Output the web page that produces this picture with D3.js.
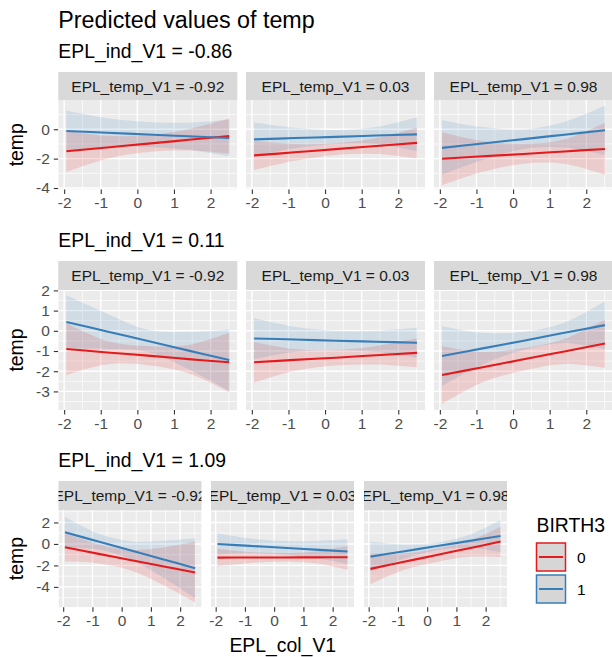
<!DOCTYPE html>
<html>
<head>
<meta charset="utf-8">
<script src="https://cdn.jsdelivr.net/npm/d3@7"></script>
<style>
  html, body { margin: 0; padding: 0; background: #ffffff; }
  svg { display: block; }
  text { font-family: "Liberation Sans", Arial, Helvetica, sans-serif; }
</style>
</head>
<body>
<div id="chart"></div>
<script>
// ---------------- DATA ----------------
const chartTitle = "Predicted values of temp";
const rowLabels = ["EPL_ind_V1 = -0.86", "EPL_ind_V1 = 0.11", "EPL_ind_V1 = 1.09"];
const colLabels = ["EPL_temp_V1 = -0.92", "EPL_temp_V1 = 0.03", "EPL_temp_V1 = 0.98"];
const groups = ["0", "1"];
const legendTitle = "BIRTH3";
const xTitle = "EPL_col_V1";
const yTitle = "temp";
const xTicks = [-2, -1, 0, 1, 2];
const yTicksRow1 = [-4, -2, 0];
const yTicksRow2 = [-3, -2, -1, 0, 1, 2];
const yTicksRow3 = [-4, -2, 0, 2];
const xs = [-1.94, -0.83, 0.29, 1.40, 2.51];

// per panel (row-major: row1 col1..3, row2 col1..3, row3 col1..3)
const fit0 = [
  [-1.50, -1.24, -0.98, -0.72, -0.46],
  [-1.78, -1.57, -1.35, -1.14, -0.93],
  [-2.01, -1.84, -1.68, -1.51, -1.34],
  [-0.90, -1.07, -1.23, -1.40, -1.56],
  [-1.56, -1.44, -1.33, -1.21, -1.09],
  [-2.19, -1.80, -1.41, -1.02, -0.63],
  [-0.31, -0.90, -1.49, -2.07, -2.66],
  [-1.27, -1.26, -1.26, -1.25, -1.24],
  [-2.32, -1.69, -1.05, -0.42, 0.22]
];
const lo0 = [
  [-2.90, -2.00, -1.55, -1.45, -1.66],
  [-2.78, -2.15, -1.75, -1.68, -1.98],
  [-3.82, -2.90, -2.35, -2.35, -3.10],
  [-2.19, -1.65, -1.70, -2.10, -3.05],
  [-2.57, -1.98, -1.72, -1.67, -1.81],
  [-3.62, -2.55, -1.97, -1.64, -1.83],
  [-1.64, -1.80, -2.45, -3.80, -5.45],
  [-2.10, -1.78, -1.65, -1.80, -2.41],
  [-3.75, -2.45, -1.70, -1.20, -1.24]
];
const hi0 = [
  [-0.10, -0.45, -0.40, 0.00, 0.74],
  [-0.78, -1.00, -0.95, -0.60, 0.12],
  [-0.20, -0.80, -1.00, -0.70, 0.44],
  [0.39, -0.50, -0.75, -0.70, -0.10],
  [-0.55, -0.90, -0.95, -0.75, -0.37],
  [-0.76, -1.05, -0.85, -0.40, 0.56],
  [1.02, 0.00, -0.55, -0.35, 0.22],
  [-0.44, -0.75, -0.85, -0.70, -0.19],
  [-0.89, -0.90, -0.45, 0.25, 1.61]
];
const fit1 = [
  [-0.12, -0.24, -0.36, -0.48, -0.60],
  [-0.69, -0.60, -0.52, -0.43, -0.35],
  [-1.27, -0.97, -0.67, -0.37, -0.07],
  [0.44, -0.03, -0.50, -0.98, -1.45],
  [-0.38, -0.43, -0.49, -0.54, -0.59],
  [-1.25, -0.87, -0.49, -0.10, 0.28],
  [1.08, 0.25, -0.59, -1.42, -2.26],
  [0.00, -0.18, -0.35, -0.53, -0.71],
  [-1.18, -0.70, -0.22, 0.26, 0.74]
];
const lo1 = [
  [-1.50, -1.20, -1.20, -1.40, -1.85],
  [-1.84, -1.30, -1.00, -1.00, -1.50],
  [-3.10, -2.10, -1.35, -1.25, -1.76],
  [-0.88, -0.90, -1.05, -1.90, -2.97],
  [-1.40, -1.05, -0.98, -1.05, -1.33],
  [-2.73, -1.65, -0.95, -0.60, -0.90],
  [-0.38, -0.50, -1.40, -3.10, -5.05],
  [-0.99, -0.85, -0.98, -1.30, -1.85],
  [-2.58, -1.40, -0.60, -0.35, -0.75]
];
const hi1 = [
  [1.27, 0.75, 0.50, 0.45, 0.65],
  [0.46, 0.10, -0.05, 0.15, 0.81],
  [0.62, 0.15, 0.00, 0.50, 1.62],
  [1.76, 0.85, 0.05, -0.05, 0.07],
  [0.64, 0.20, 0.00, 0.00, 0.15],
  [0.23, -0.10, -0.05, 0.40, 1.46],
  [2.54, 1.00, 0.25, 0.30, 0.53],
  [0.99, 0.50, 0.28, 0.28, 0.43],
  [0.22, -0.05, 0.10, 0.80, 2.23]
];

// ---------------- LAYOUT / STYLE ----------------
const W = 612, H = 657;
const colors = ["#E41A1C", "#377EB8"];
const xDomain = [-2.16, 2.73];
const rowsGeom = [
  { labelY: 58.3, stripTop: 72, top: 100, bottom: 189.5, lefts: [58.3, 246, 434], width: 179, yDomain: [-4.1, 1.99], yTicks: yTicksRow1 },
  { labelY: 246.7, stripTop: 261, top: 290, bottom: 410, lefts: [58.3, 246, 434], width: 179, yDomain: [-3.92, 2.02], yTicks: yTicksRow2 },
  { labelY: 466.7, stripTop: 481, top: 510, bottom: 607.3, lefts: [58.5, 211, 364], width: 143, yDomain: [-5.9, 3.16], yTicks: yTicksRow3 }
];
const fsBase = 19.4, fsSmall = 15.5, fsTitle = 23.3;
const fmt = d => String(d);   // plain hyphen-minus like the reference

const svg = d3.select("#chart").append("svg")
  .attr("width", W).attr("height", H)
  .attr("viewBox", `0 0 ${W} ${H}`);
const defs = svg.append("defs");

svg.append("text").attr("x", 58.3).attr("y", 28.3)
  .attr("font-size", fsTitle).attr("fill", "#000").text(chartTitle);

function minorBetween(ticks, step, domain) {
  const out = [];
  const lo = Math.min(...domain), hi = Math.max(...domain);
  const first = ticks[0] - step / 2;
  for (let v = first - 10 * step; v <= hi + 1e-9; v += step) {
    if (v >= lo && v <= hi && !ticks.some(t => Math.abs(t - v) < 1e-9)) out.push(v);
  }
  return out;
}

rowsGeom.forEach((g, r) => {
  svg.append("text").attr("x", 58.3).attr("y", g.labelY)
    .attr("font-size", fsBase).attr("fill", "#000").text(rowLabels[r]);

  const y = d3.scaleLinear().domain(g.yDomain).range([g.bottom, g.top]);
  const yStep = g.yTicks[1] - g.yTicks[0];
  const yMinor = minorBetween(g.yTicks, yStep, g.yDomain);

  svg.append("text")
    .attr("transform", `translate(${23},${(g.top + g.bottom) / 2}) rotate(-90)`)
    .attr("text-anchor", "middle").attr("font-size", fsBase).attr("fill", "#000")
    .text(yTitle);

  const yAxis = d3.axisLeft(y).tickValues(g.yTicks).tickSize(4.5).tickPadding(4)
    .tickFormat(fmt);
  const ya = svg.append("g").attr("transform", `translate(${g.lefts[0]},0)`).call(yAxis);
  ya.select(".domain").remove();
  ya.selectAll(".tick line").attr("stroke", "#333333").attr("stroke-width", 1.1);
  ya.selectAll(".tick text").attr("fill", "#4D4D4D").attr("font-size", fsSmall)
    .attr("font-family", "Liberation Sans, Arial, sans-serif");

  g.lefts.forEach((left, c) => {
    const idx = r * 3 + c;
    const x = d3.scaleLinear().domain(xDomain).range([left, left + g.width]);
    const xMinor = minorBetween(xTicks, 1, xDomain);

    const clipS = `clipS${idx}`;
    defs.append("clipPath").attr("id", clipS).append("rect")
      .attr("x", left).attr("y", g.stripTop).attr("width", g.width).attr("height", g.top - g.stripTop);
    svg.append("rect").attr("x", left).attr("y", g.stripTop)
      .attr("width", g.width).attr("height", g.top - g.stripTop).attr("fill", "#D9D9D9");
    svg.append("g").attr("clip-path", `url(#${clipS})`).append("text")
      .attr("x", left + g.width / 2).attr("y", (g.stripTop + g.top) / 2)
      .attr("dy", "0.36em").attr("text-anchor", "middle")
      .attr("font-size", fsSmall).attr("fill", "#1A1A1A").text(colLabels[c]);

    const clipP = `clipP${idx}`;
    defs.append("clipPath").attr("id", clipP).append("rect")
      .attr("x", left).attr("y", g.top).attr("width", g.width).attr("height", g.bottom - g.top);
    const p = svg.append("g").attr("clip-path", `url(#${clipP})`);
    p.append("rect").attr("x", left).attr("y", g.top)
      .attr("width", g.width).attr("height", g.bottom - g.top).attr("fill", "#EBEBEB");

    p.selectAll(".xminor").data(xMinor).enter().append("line")
      .attr("x1", d => x(d)).attr("x2", d => x(d)).attr("y1", g.top).attr("y2", g.bottom)
      .attr("stroke", "#fff").attr("stroke-width", 0.7);
    p.selectAll(".yminor").data(yMinor).enter().append("line")
      .attr("x1", left).attr("x2", left + g.width).attr("y1", d => y(d)).attr("y2", d => y(d))
      .attr("stroke", "#fff").attr("stroke-width", 0.7);
    p.selectAll(".xmajor").data(xTicks).enter().append("line")
      .attr("x1", d => x(d)).attr("x2", d => x(d)).attr("y1", g.top).attr("y2", g.bottom)
      .attr("stroke", "#fff").attr("stroke-width", 1.4);
    p.selectAll(".ymajor").data(g.yTicks).enter().append("line")
      .attr("x1", left).attr("x2", left + g.width).attr("y1", d => y(d)).attr("y2", d => y(d))
      .attr("stroke", "#fff").attr("stroke-width", 1.4);

    const series = [
      { fit: fit0[idx], lo: lo0[idx], hi: hi0[idx], color: colors[0] },
      { fit: fit1[idx], lo: lo1[idx], hi: hi1[idx], color: colors[1] }
    ];
    const area = d3.area().curve(d3.curveCatmullRom.alpha(0.5))
      .x(d => x(d.x)).y0(d => y(d.lo)).y1(d => y(d.hi));
    const line = d3.line().curve(d3.curveCatmullRom.alpha(0.5))
      .x(d => x(d.x)).y(d => y(d.v));
    series.forEach(s => {
      const pts = xs.map((xv, i) => ({ x: xv, lo: s.lo[i], hi: s.hi[i] }));
      p.append("path").attr("d", area(pts)).attr("fill", s.color).attr("fill-opacity", 0.15);
    });
    series.forEach(s => {
      const pts = xs.map((xv, i) => ({ x: xv, v: s.fit[i] }));
      p.append("path").attr("d", line(pts)).attr("fill", "none")
        .attr("stroke", s.color).attr("stroke-width", 2.1);
    });

    const xAxis = d3.axisBottom(x).tickValues(xTicks).tickSize(4.5).tickPadding(3)
      .tickFormat(fmt);
    const xa = svg.append("g").attr("transform", `translate(0,${g.bottom})`).call(xAxis);
    xa.select(".domain").remove();
    xa.selectAll(".tick line").attr("stroke", "#333333").attr("stroke-width", 1.1);
    xa.selectAll(".tick text").attr("fill", "#4D4D4D").attr("font-size", fsSmall)
      .attr("font-family", "Liberation Sans, Arial, sans-serif");
  });
});

const g3 = rowsGeom[2];
svg.append("text")
  .attr("x", (g3.lefts[0] + g3.lefts[2] + g3.width) / 2).attr("y", 651.7)
  .attr("text-anchor", "middle").attr("font-size", fsBase).attr("fill", "#000")
  .text(xTitle);

const lg = svg.append("g");
lg.append("text").attr("x", 536.5).attr("y", 531.7)
  .attr("font-size", fsBase).attr("fill", "#000").text(legendTitle);
groups.forEach((gName, i) => {
  const top = 543 + i * 32;
  lg.append("rect").attr("x", 536.5).attr("y", top).attr("width", 29).attr("height", 28)
    .attr("fill", "#D6D6D6").attr("stroke", colors[i]).attr("stroke-width", 1.5);
  lg.append("line").attr("x1", 539).attr("x2", 563).attr("y1", top + 14).attr("y2", top + 14)
    .attr("stroke", colors[i]).attr("stroke-width", 2);
  lg.append("text").attr("x", 577).attr("y", top + 14).attr("dy", "0.36em")
    .attr("font-size", fsSmall).attr("fill", "#000").text(gName);
});
</script>
</body>
</html>
